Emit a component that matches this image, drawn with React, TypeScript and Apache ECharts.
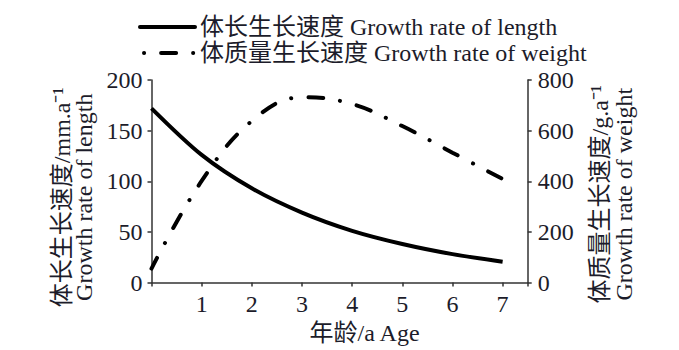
import React, { useEffect, useRef } from "react";
import * as echarts from "echarts";

const ages = [0, 1, 2, 3, 4, 5, 6, 7];
const lengthRate = [172, 126, 93, 69, 51, 38, 28, 20.5];
const weightRate = [55, 401, 638, 732, 705, 618, 513, 409];
const seriesNames = ["体长生长速度 Growth rate of length", "体质量生长速度 Growth rate of weight"];
const leftAxisName = "体长生长速度/mm.a⁻¹\nGrowth rate of length";
const rightAxisName = "体质量生长速度/g.a⁻¹\nGrowth rate of weight";
const xAxisName = "年龄/a Age";

const FONT = "'Liberation Serif', 'Noto Sans CJK SC', serif";
const TEXT = "#1c1c2a";
const AXIS = "#333333";

export default function App() {
  const ref = useRef<HTMLDivElement>(null);
  useEffect(() => {
    document.body.style.margin = "0";
    if (!ref.current) return;
    const chart = echarts.init(ref.current, null, { renderer: "svg" });
    const pair = (vals: number[]) => ages.map((a, i) => [a, vals[i]]);
    chart.setOption({
      animation: false,
      textStyle: { fontFamily: FONT, color: TEXT },
      legend: {
        orient: "vertical",
        left: 133,
        top: 10,
        itemWidth: 55,
        itemHeight: 14,
        itemGap: 2,
        itemStyle: { color: "transparent", borderColor: "transparent", borderWidth: 0 },
        lineStyle: { width: 4, cap: "round", dashOffset: -4 },
        textStyle: { fontSize: 24, fontFamily: FONT, color: TEXT },
        data: seriesNames,
      },
      grid: {
        left: 151.5,
        right: 151.3,
        top: 80,
        bottom: 67.5,
        containLabel: false,
        outerBoundsMode: "none",
      },
      xAxis: {
        type: "value",
        min: 0,
        max: 7.5,
        interval: 1,
        name: xAxisName,
        nameLocation: "middle",
        nameGap: 38,
        nameTextStyle: { fontSize: 24, fontFamily: FONT, color: TEXT, padding: [0, 0, 0, 50] },
        axisLine: { lineStyle: { color: AXIS, width: 1.5 } },
        axisTick: { show: true, length: 4, lineStyle: { color: AXIS, width: 1.5 } },
        axisLabel: {
          fontSize: 24,
          fontFamily: FONT,
          color: TEXT,
          margin: 9,
          formatter: (v: number) => (v >= 1 && v <= 7 && Number.isInteger(v) ? String(v) : ""),
        },
        splitLine: { show: false },
      },
      yAxis: [
        {
          type: "value",
          min: 0,
          max: 200,
          interval: 50,
          position: "left",
          name: leftAxisName,
          nameLocation: "middle",
          nameRotate: 90,
          nameGap: 44,
          nameTextStyle: { fontSize: 24, fontFamily: FONT, color: TEXT, lineHeight: 22, padding: [0, 32, 0, 0] },
          axisLine: { show: true, lineStyle: { color: AXIS, width: 1.5 } },
          axisTick: { show: true, length: 4, lineStyle: { color: AXIS, width: 1.5 } },
          axisLabel: { fontSize: 24, fontFamily: FONT, color: TEXT, margin: 9 },
          splitLine: { show: false },
        },
        {
          type: "value",
          min: 0,
          max: 800,
          interval: 200,
          position: "right",
          name: rightAxisName,
          nameLocation: "middle",
          nameRotate: 90,
          nameGap: 60,
          nameTextStyle: { fontSize: 24, fontFamily: FONT, color: TEXT, lineHeight: 24, padding: [0, 26, 0, 0] },
          axisLine: { show: true, lineStyle: { color: AXIS, width: 1.5 } },
          axisTick: { show: true, length: 4, lineStyle: { color: AXIS, width: 1.5 } },
          axisLabel: { fontSize: 24, fontFamily: FONT, color: TEXT, margin: 10 },
          splitLine: { show: false },
        },
      ],
      series: [
        {
          name: seriesNames[0],
          type: "line",
          yAxisIndex: 0,
          data: pair(lengthRate),
          smooth: 0.3,
          symbol: "none",
          lineStyle: { color: "#000", width: 4 },
          itemStyle: { color: "#000" },
        },
        {
          name: seriesNames[1],
          type: "line",
          yAxisIndex: 1,
          data: pair(weightRate),
          smooth: 0.4,
          symbol: "none",
          lineStyle: { color: "#000", width: 4, type: [0.1, 17, 15, 17], cap: "round", dashOffset: 20 },
          itemStyle: { color: "#000" },
        },
      ],
    });
    return () => chart.dispose();
  }, []);
  return <div ref={ref} style={{ width: 679, height: 350 }} />;
}
